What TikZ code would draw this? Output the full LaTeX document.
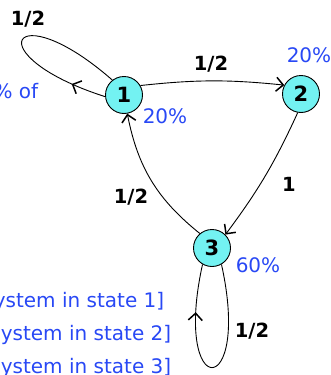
\documentclass[tikz,border=0pt]{standalone}
\usepackage{fontspec}
\setmainfont{DejaVu Sans}
\usetikzlibrary{arrows.meta,decorations.markings}
\definecolor{statecyan}{RGB}{115,242,242}
\definecolor{pctblue}{RGB}{40,72,245}

\begin{document}
\begin{tikzpicture}[x=1pt, y=-1pt, line width=0.9pt,
	>={Straight Barb[length=7pt,width=14pt,line width=1.5pt]},
	state/.style={draw, circle, fill=statecyan, minimum size=37pt, inner sep=0pt, font=\fontsize{21}{21}\selectfont\bfseries},
	prob/.style={font=\fontsize{19.5}{19.5}\selectfont\bfseries},
	pct/.style={text=pctblue, font=\fontsize{20}{20}\selectfont},
	midarrow/.style={postaction={decorate}, decoration={markings, mark=at position #1 with {\arrow{>}}}}]
	\useasboundingbox (0,0) rectangle (331,375);
	\clip (0,0) rectangle (331,375);
	\node[state] (s1) at (124,95) {1};
	\node[state] (s2) at (301,94) {2};
	\node[state] (s3) at (212,248) {3};
	% transitions
	\draw[->] (s1.30) to[bend left=6] (s2.152);
	\draw[->] (s2.-100) to[bend left=6] (s3.45);
	\draw[->] (s3.130) to[bend left=20] (s1.-80);
	\draw[midarrow=0.17] (s1.185) .. controls (-25,55) and (12,-8) .. (s1.128);
	\draw[midarrow=0.78] (s3.-60) .. controls (252,402) and (172,402) .. (s3.-120);
	% probabilities
	\node[prob] (p11) at (28,19) {1/2};
	\node[prob] (p12) at (211,64) {1/2};
	\node[prob] (p23) at (289,184) {1};
	\node[prob] (p31) at (131,197) {1/2};
	\node[prob] (p33) at (252,331) {1/2};
	% shares
	\node[pct] (pct1) at (165,116) {20\%};
	\node[pct] (pct2) at (309,55) {20\%};
	\node[pct] (pct3) at (258,265) {60\%};
	\node[pct, anchor=base east] (txt0) at (42,98) {\% of};
	\node[pct, anchor=base east] (txt1) at (168,307) {ystem in state 1]};
	\node[pct, anchor=base east] (txt2) at (175,340) {ystem in state 2]};
	\node[pct, anchor=base east] (txt3) at (175,373) {ystem in state 3]};
\end{tikzpicture}
\end{document}
